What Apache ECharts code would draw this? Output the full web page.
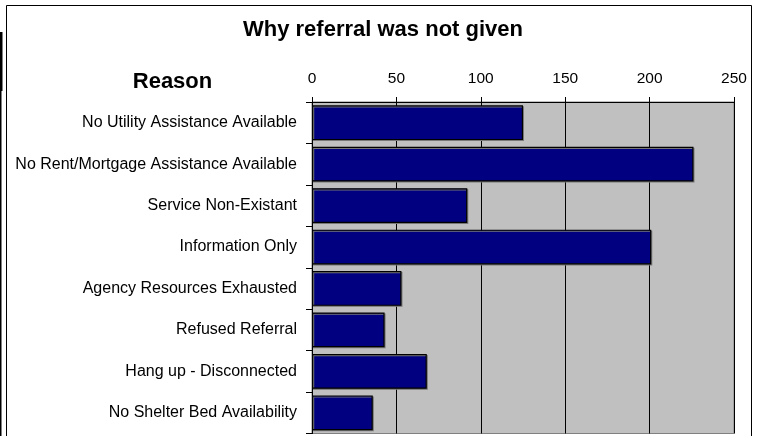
<!DOCTYPE html>
<html>
<head>
<meta charset="utf-8">
<script src="https://cdn.jsdelivr.net/npm/echarts@6/dist/echarts.min.js"></script>
<style>
  html, body { margin: 0; padding: 0; background: #fff; }
  #chart { width: 760px; height: 436px; }
</style>
</head>
<body>
<div id="chart"></div>
<script>
// reasons, top to bottom as in the picture
var reasons = [
  "No Utility Assistance Available",
  "No Rent/Mortgage Assistance Available",
  "Service Non-Existant",
  "Information Only",
  "Agency Resources Exhausted",
  "Refused Referral",
  "Hang up - Disconnected",
  "No Shelter Bed Availability"
];
var counts = [125, 226, 92, 201, 53, 43, 68, 36];
var tickValues = [0, 50, 100, 150, 200, 250];

var FONT = "'Liberation Sans', Arial, sans-serif";

var chart = echarts.init(document.getElementById("chart"));
chart.setOption({
  animation: false,
  backgroundColor: "#fff",
  title: {
    text: "Why referral was not given",
    left: 243,
    top: 19,
    padding: 0,
    textStyle: { fontFamily: FONT, fontSize: 22, fontWeight: "bold", color: "#000" }
  },
  graphic: [
    // outer chart frame
    { type: "rect", shape: { x: 6.5, y: 5.5, width: 745, height: 440 },
      style: { fill: "none", stroke: "#000", lineWidth: 1 }, z: 10 },
    // bits of the neighbouring frame at the left edge
    { type: "rect", shape: { x: 0, y: 32, width: 2.5, height: 59 }, style: { fill: "#000" } },
    { type: "rect", shape: { x: 0, y: 91, width: 1.5, height: 345 }, style: { fill: "#000" } },
    // category axis heading
    { type: "text", style: { x: 172.5, y: 82, text: "Reason", align: "center", verticalAlign: "middle",
      font: "bold 22px " + FONT, fill: "#000" } }
  ],
  grid: {
    left: 312, top: 102, right: 26, bottom: 2.5,
    show: true, backgroundColor: "#c0c0c0", borderColor: "#808080", borderWidth: 1
  },
  xAxis: {
    type: "value",
    position: "top",
    min: tickValues[0],
    max: tickValues[tickValues.length - 1],
    interval: 50,
    axisLine: { show: true, lineStyle: { color: "#000", width: 1 } },
    axisTick: { show: true, length: 5, lineStyle: { color: "#000" } },
    splitLine: { show: true, lineStyle: { color: "#000", width: 1 } },
    axisLabel: { fontFamily: FONT, fontSize: 15.5, color: "#000", margin: 15 }
  },
  yAxis: {
    type: "category",
    inverse: true,
    data: reasons,
    axisLine: { show: true, lineStyle: { color: "#000", width: 1 } },
    axisTick: { show: true, length: 6, lineStyle: { color: "#000" } },
    axisLabel: { fontFamily: FONT, fontSize: 16, color: "#000", margin: 15 }
  },
  series: [{
    name: "Reason",
    type: "bar",
    data: counts,
    barCategoryGap: "16%",
    itemStyle: {
      color: "#000080",
      borderColor: "#000",
      borderWidth: 1.2,
      shadowColor: "#777",
      shadowOffsetX: 1,
      shadowOffsetY: 1,
      shadowBlur: 0
    }
  }]
});
</script>
</body>
</html>
